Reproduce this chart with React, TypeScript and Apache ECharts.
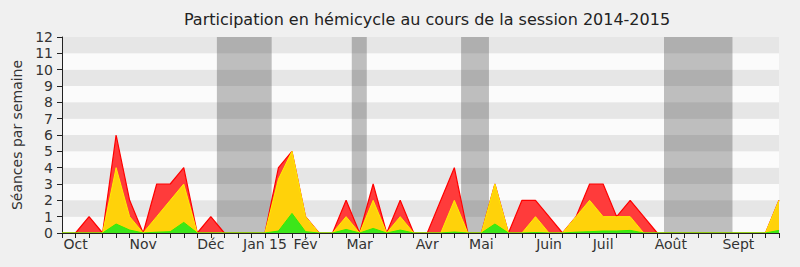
import { useEffect, useRef } from "react";
import * as echarts from "echarts";

const titre = "Participation en hémicycle au cours de la session 2014-2015";
const nomAxeY = "Séances par semaine";

// week index (0..53) of each month label
const moisIndex = [1, 6, 11, 15, 18, 22, 27, 31, 36, 40, 45, 50];
const moisNoms = ["Oct", "Nov", "Déc", "Jan 15", "Fév", "Mar", "Avr", "Mai", "Juin", "Juil", "Août", "Sept"];

// red (total), yellow, green — one value per week
const presences = [0, 0, 1, 0, 6, 2, 0, 3, 3, 4, 0, 1, 0, 0, 0, 0, 4, 5, 1, 0, 0, 2, 0, 3, 0, 2, 0, 0, 2, 4, 0, 0, 3, 0, 2, 2, 1, 0, 1, 3, 3, 1, 2, 1, 0, 0, 0, 0, 0, 0, 0, 0, 0, 2];
const participations = [0, 0, 0, 0, 4, 1, 0, 1, 2, 3, 0, 0, 0, 0, 0, 0, 3.3, 5, 1, 0, 0, 1, 0, 2, 0, 1, 0, 0, 0, 2, 0, 0, 3, 0, 0, 1, 0, 0, 1, 2, 1, 1, 1, 0, 0, 0, 0, 0, 0, 0, 0, 0, 0, 2];
const interventions = [0, 0, 0, 0, 0.55, 0.18, 0, 0.05, 0.08, 0.65, 0, 0, 0, 0, 0, 0, 0.12, 1.2, 0.08, 0, 0, 0.22, 0, 0.28, 0, 0.18, 0, 0, 0, 0.06, 0, 0, 0.55, 0, 0, 0.03, 0, 0, 0.05, 0.08, 0.12, 0.12, 0.16, 0, 0, 0, 0, 0, 0, 0, 0, 0, 0, 0.16];

// parliamentary recess periods, in week units
const vacances = [
  [11.45, 15.5],
  [21.42, 22.53],
  [29.5, 31.56],
  [44.5, 49.56],
];

const FONT = "DejaVu Sans";

export default function App() {
  const ref = useRef<HTMLDivElement>(null);
  useEffect(() => {
    document.body.style.margin = "0";
    if (!ref.current) return;
    const chart = echarts.init(ref.current, null, { renderer: "svg" });
    const toPairs = (arr: number[]) => arr.map((v, i) => [i, v]);
    const labelMap: Record<number, string> = {};
    moisIndex.forEach((idx, k) => (labelMap[idx] = moisNoms[k]));
    chart.setOption({
      animation: false,
      backgroundColor: "#f0f0f0",
      textStyle: { fontFamily: FONT },
      graphic: [
        {
          type: "text",
          style: {
            text: titre,
            x: 427,
            y: 19,
            textAlign: "center",
            textVerticalAlign: "middle",
            font: `16px "${FONT}"`,
            fill: "#222",
          },
        },
      ],
      grid: { left: 62, right: 21, top: 37, bottom: 34, containLabel: false },
      xAxis: {
        type: "value",
        min: 0,
        max: presences.length - 1,
        interval: 1,
        z: 10,
        axisLine: { show: true, lineStyle: { color: "#222", width: 1 } },
        axisTick: { show: true, length: 5, lineStyle: { color: "#222" } },
        splitLine: { show: false },
        axisLabel: {
          fontFamily: FONT,
          fontSize: 14,
          color: "#333",
          margin: 4,
          showMinLabel: true,
          showMaxLabel: true,
          formatter: (v: number) => labelMap[Math.round(v)] || "",
        },
      },
      yAxis: {
        type: "value",
        min: 0,
        max: 12,
        interval: 1,
        name: nomAxeY,
        nameLocation: "middle",
        nameGap: 36,
        nameTextStyle: { fontFamily: FONT, fontSize: 14, color: "#333" },
        axisLine: { show: true, lineStyle: { color: "#222", width: 1 } },
        axisTick: { show: true, length: 5, lineStyle: { color: "#222" } },
        splitLine: { show: false },
        splitArea: { show: true, areaStyle: { color: ["#fbfbfb", "#e6e6e6"] } },
        axisLabel: { fontFamily: FONT, fontSize: 14, color: "#333", margin: 9 },
      },
      series: [
        {
          type: "line",
          z: 1,
          data: [[0, 0]],
          showSymbol: false,
          lineStyle: { opacity: 0 },
          silent: true,
          markArea: {
            silent: true,
            itemStyle: { color: "rgba(50,50,50,0.3)" },
            data: vacances.map(([a, b]) => [{ xAxis: a }, { xAxis: b }]),
          },
        },
        {
          type: "line",
          z: 2,
          data: toPairs(presences),
          showSymbol: false,
          lineStyle: { color: "#ff0000", width: 1.2 },
          areaStyle: { color: "#ff3b3b", opacity: 1 },
        },
        {
          type: "line",
          z: 3,
          data: toPairs(participations),
          showSymbol: false,
          lineStyle: { color: "#ffee00", width: 1 },
          areaStyle: { color: "#ffd20a", opacity: 1 },
        },
        {
          type: "line",
          z: 4,
          data: toPairs(interventions),
          showSymbol: false,
          lineStyle: { color: "#33ee00", width: 1 },
          areaStyle: { color: "#3ce61a", opacity: 1 },
        },
      ],
    });
    return () => chart.dispose();
  }, []);
  return <div ref={ref} style={{ width: 800, height: 267 }} />;
}
